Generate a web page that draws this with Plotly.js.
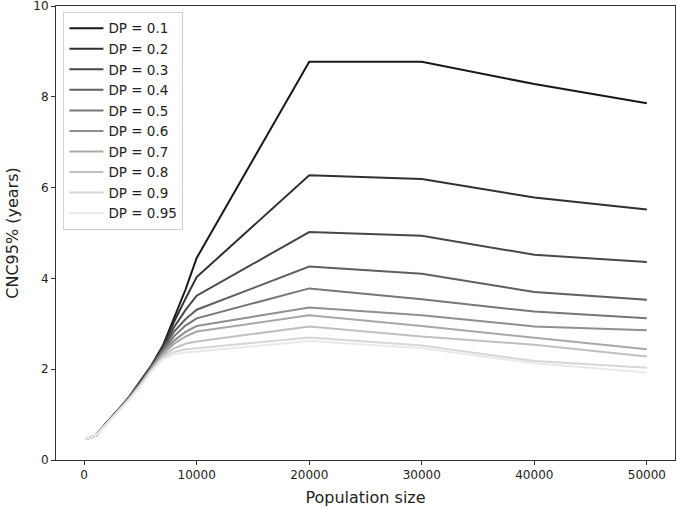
<!DOCTYPE html>
<html>
<head>
<meta charset="utf-8">
<script src="https://cdn.plot.ly/plotly-3.0.1.min.js"></script>
<style>html,body{margin:0;padding:0;background:#fff;}#chart{width:677px;height:509px;}</style>
</head>
<body>
<div id="chart"></div>
<script>
// Population sizes (x)
const populationSizes = [100, 500, 1000, 2000, 3000, 4000, 5000, 6000, 7000, 8000, 9000, 10000, 20000, 30000, 40000, 50000];

// Series labels
const seriesLabels = ["DP = 0.1", "DP = 0.2", "DP = 0.3", "DP = 0.4", "DP = 0.5", "DP = 0.6", "DP = 0.7", "DP = 0.8", "DP = 0.9", "DP = 0.95"];

// CNC95% (years) per series
const dp010 = [0.46, 0.49, 0.53, 0.82, 1.09, 1.39, 1.73, 2.09, 2.52, 3.15, 3.75, 4.45, 8.77, 8.77, 8.28, 7.86];
const dp020 = [0.46, 0.49, 0.53, 0.82, 1.09, 1.38, 1.72, 2.08, 2.49, 3.05, 3.55, 4.03, 6.27, 6.19, 5.78, 5.52];
const dp030 = [0.46, 0.49, 0.53, 0.82, 1.08, 1.38, 1.71, 2.07, 2.46, 2.93, 3.30, 3.62, 5.02, 4.94, 4.52, 4.36];
const dp040 = [0.46, 0.49, 0.53, 0.81, 1.08, 1.37, 1.70, 2.06, 2.43, 2.83, 3.10, 3.31, 4.26, 4.10, 3.70, 3.53];
const dp050 = [0.46, 0.49, 0.53, 0.81, 1.08, 1.37, 1.69, 2.05, 2.40, 2.73, 2.96, 3.12, 3.78, 3.54, 3.27, 3.12];
const dp060 = [0.46, 0.49, 0.53, 0.81, 1.07, 1.36, 1.68, 2.03, 2.37, 2.63, 2.82, 2.95, 3.36, 3.19, 2.94, 2.86];
const dp070 = [0.46, 0.49, 0.53, 0.80, 1.07, 1.35, 1.67, 2.01, 2.33, 2.56, 2.72, 2.83, 3.19, 2.95, 2.70, 2.44];
const dp080 = [0.46, 0.49, 0.53, 0.80, 1.06, 1.34, 1.65, 1.99, 2.29, 2.46, 2.56, 2.61, 2.94, 2.72, 2.54, 2.28];
const dp090 = [0.46, 0.49, 0.53, 0.80, 1.06, 1.33, 1.63, 1.97, 2.25, 2.38, 2.44, 2.46, 2.70, 2.52, 2.18, 2.03];
const dp095 = [0.46, 0.49, 0.53, 0.79, 1.05, 1.32, 1.62, 1.96, 2.22, 2.33, 2.37, 2.39, 2.62, 2.46, 2.13, 1.93];

const seriesValues = [dp010, dp020, dp030, dp040, dp050, dp060, dp070, dp080, dp090, dp095];

// Styles (separate from data)
const lineColors = ["#181818", "#303030", "#474747", "#5f5f5f", "#777777", "#8f8f8f", "#a7a7a7", "#c0c0c0", "#d6d6d6", "#e9e9e9"];

const traces = seriesValues.map((vals, i) => ({
  x: populationSizes,
  y: vals,
  type: 'scatter',
  mode: 'lines',
  name: seriesLabels[i],
  legendgroup: 'g' + i,
  line: {color: lineColors[i], width: 2}
}));

const ff = 'DejaVu Sans, sans-serif';

const layout = {
  width: 677,
  height: 509,
  margin: {l: 56, r: 2, t: 6, b: 49},
  paper_bgcolor: '#fff',
  plot_bgcolor: '#fff',
  font: {family: ff, color: '#222'},
  showlegend: true,
  legend: {
    x: 0.012, y: 0.987, xanchor: 'left', yanchor: 'top',
    bgcolor: '#fff', bordercolor: '#d0d0d0', borderwidth: 1,
    font: {family: ff, size: 13.5, color: '#222'},
    tracegroupgap: 3.2,
    itemwidth: 34,
    traceorder: 'normal'
  },
  xaxis: {
    range: [-2500, 52500],
    tickvals: [0, 10000, 20000, 30000, 40000, 50000],
    ticktext: ['0', '10000', '20000', '30000', '40000', '50000'],
    ticks: 'outside', ticklen: 4, tickcolor: '#333', tickwidth: 1,
    showgrid: false, zeroline: false,
    showline: true, linecolor: '#333', linewidth: 1, mirror: true,
    tickfont: {family: ff, size: 12, color: '#222'},
    title: {text: 'Population size', font: {family: ff, size: 16, color: '#222'}, standoff: 10}
  },
  yaxis: {
    range: [0, 10],
    tickvals: [0, 2, 4, 6, 8, 10],
    ticks: 'outside', ticklen: 4, tickcolor: '#333', tickwidth: 1,
    ticklabeloverflow: 'allow',
    showgrid: false, zeroline: false,
    showline: true, linecolor: '#333', linewidth: 1, mirror: true,
    tickfont: {family: ff, size: 12, color: '#222'},
    title: {text: 'CNC95% (years)', font: {family: ff, size: 16, color: '#222'}, standoff: 10}
  }
};

Plotly.newPlot('chart', traces, layout, {displayModeBar: false, staticPlot: true});
</script>
</body>
</html>
